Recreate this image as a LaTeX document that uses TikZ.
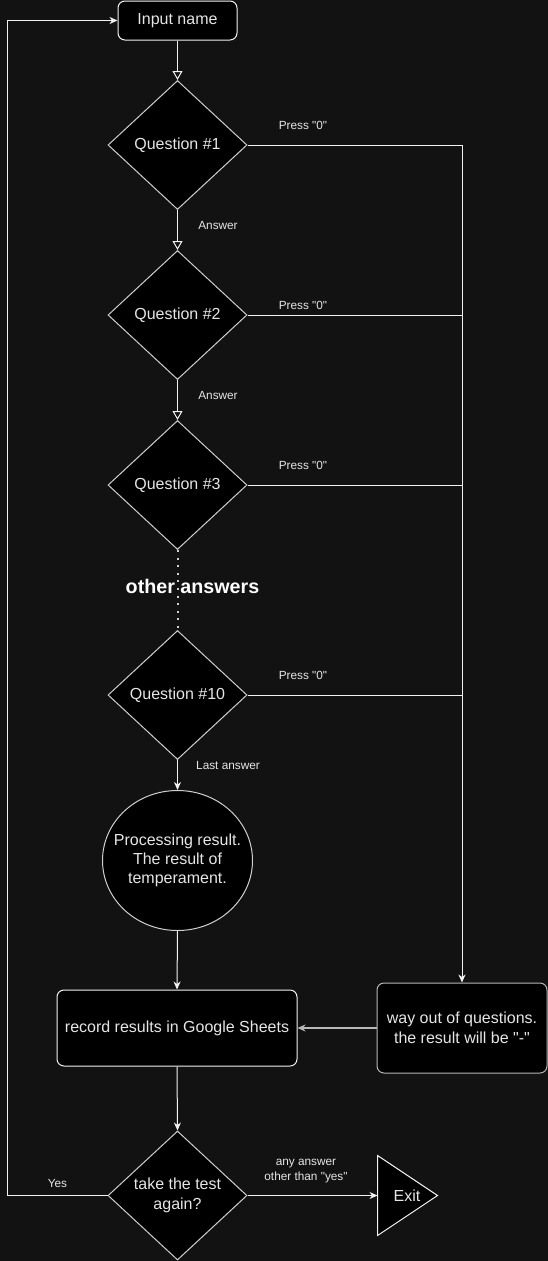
\documentclass[tikz,border=0pt]{standalone}
\usepackage{fontspec}
\setmainfont{Liberation Sans}
\usetikzlibrary{shapes.geometric,arrows.meta}
\definecolor{bg}{HTML}{121212}
\definecolor{ln}{HTML}{F2F2F2}
\definecolor{tx}{HTML}{E6E6E6}
\definecolor{dg}{HTML}{D0D0D0}
\definecolor{gb}{HTML}{B8B8B8}
\newcommand{\qq}{\textquotedbl}
\begin{document}
\begin{tikzpicture}[x=1pt,y=-1pt,
  every node/.style={text=tx},
  conn/.style={draw=ln,line width=1pt},
  harr/.style={conn,-{Triangle[open,length=9pt,width=10pt]}},
  sarr/.style={conn,-{Stealth[length=8pt,width=7pt,inset=2.5pt]}},
  rbox/.style={draw=ln,fill=black,rounded corners=7pt,line width=1pt,inner sep=0pt,align=center,font=\fontsize{16}{20}\selectfont},
  qdia/.style={draw=dg,fill=black,diamond,aspect=1,inner sep=0pt,minimum width=139pt,minimum height=129pt,line width=1pt,align=center,font=\fontsize{16}{20}\selectfont},
  lbl/.style={font=\fontsize{11.8}{15.5}\selectfont,align=center,inner sep=0pt}
]
\fill[bg] (0,0) rectangle (548,1261);
\useasboundingbox (0,0) rectangle (548,1261);

% nodes
\node[rbox,minimum width=119pt,minimum height=39pt] (input) at (177.5,20.5) {Input name};
\node[qdia] (q1) at (177.5,145) {Question \#1};
\node[qdia] (q2) at (177.5,315) {Question \#2};
\node[qdia] (q3) at (177.5,485) {Question \#3};
\node[qdia] (q10) at (177.5,695) {Question \#10};
\node[draw=dg,fill=black,ellipse,minimum width=150pt,minimum height=140pt,inner sep=0pt,line width=1pt] (proc) at (177.5,860.5) {};
\node[align=center,inner sep=0pt,font=\fontsize{16}{19.3}\selectfont] (proctext) at (proc.center) {Processing result.\\ The result of\\temperament.};
\node[rbox,minimum width=240pt,minimum height=76pt] (rec) at (177,1028) {record results in Google Sheets};
\node[rbox,draw=gb,minimum width=170pt,minimum height=90pt] (way) at (462,1028) {way out of questions.\\the result will be \qq-\qq};
\node[qdia] (take) at (177.5,1195.5) {take the test\\again?};
\draw[draw=ln,fill=black,line width=1pt] (377.5,1155.5) -- (437.5,1195.5) -- (377.5,1235.5) -- cycle;
\node[font=\fontsize{16}{20}\selectfont] (exit) at (407,1195.5) {Exit};
\coordinate (exitL) at (377.5,1195.5);

% dotted link
\draw[draw=dg,line width=2pt,dash pattern=on 2pt off 5.6pt] (q3.south) -- (q10.north);
\node[font=\bfseries\fontsize{19.7}{24}\selectfont,text=white,inner sep=0pt] (other) at (192.5,586) {other answers};

% main flow
\draw[harr] (input.south) -- (q1.north);
\draw[harr] (q1.south) -- (q2.north);
\draw[harr] (q2.south) -- (q3.north);
\draw[sarr] (q10.south) -- (proc.north);
\draw[sarr] (proc.south) -- (rec.north);
\draw[sarr] (rec.south) -- (take.north);
\draw[sarr] (take.east) -- (exitL);
\draw[sarr] (take.west) -- ++(-100,0) |- (input.west);

% exits
\draw[conn] (q2.east) -- (q2.east -| way.north);
\draw[conn] (q3.east) -- (q3.east -| way.north);
\draw[conn] (q10.east) -- (q10.east -| way.north);
\draw[sarr] (q1.east) -| (way.north);
\draw[draw=gb,line width=1.4pt,-{Stealth[length=8pt,width=7pt,inset=2.5pt]}] (way.west) -- (rec.east);

% labels
\node[lbl] (l1) at (303,125) {Press \qq0\qq};
\node[lbl] (l2) at (303,305) {Press \qq0\qq};
\node[lbl] (l3) at (303,465) {Press \qq0\qq};
\node[lbl] (l10) at (303,675) {Press \qq0\qq};
\node[lbl] (a1) at (218,225) {Answer};
\node[lbl] (a2) at (218,395) {Answer};
\node[lbl] (a3) at (228,765) {Last answer};
\node[lbl] (yes) at (57.5,1183) {Yes};
\node[lbl] (other2) at (306,1171) {any answer\\other than \qq yes\qq};
\end{tikzpicture}
\end{document}
